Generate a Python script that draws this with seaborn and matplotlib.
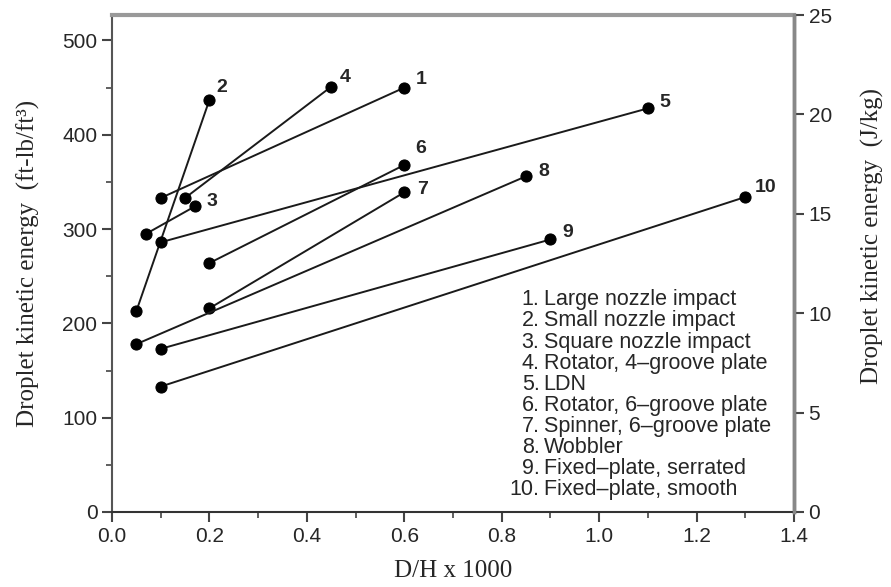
import matplotlib
matplotlib.use('Agg')
import matplotlib.pyplot as plt
from matplotlib.ticker import MultipleLocator, FormatStrFormatter
import seaborn as sns
import pandas as pd

# one line segment per nozzle type (low D/H end -> high D/H end)
series_id = [1, 2, 3, 4, 5, 6, 7, 8, 9, 10]
x_low = [0.10, 0.05, 0.07, 0.15, 0.10, 0.20, 0.20, 0.05, 0.10, 0.10]
y_low = [333, 213, 295, 333, 286, 264, 216, 178, 173, 133]
x_high = [0.60, 0.20, 0.17, 0.45, 1.10, 0.60, 0.60, 0.85, 0.90, 1.30]
y_high = [450, 437, 324, 451, 428, 368, 339, 356, 289, 334]

names = ['Large nozzle impact', 'Small nozzle impact', 'Square nozzle impact',
         'Rotator, 4\u2013groove plate', 'LDN', 'Rotator, 6\u2013groove plate',
         'Spinner, 6\u2013groove plate', 'Wobbler', 'Fixed\u2013plate, serrated',
         'Fixed\u2013plate, smooth']

# label offsets (points) for the number next to the high end
label_off = [(8, 6), (5, 9), (8.5, 3.5), (6.5, 6.5), (8, 4), (8, 12), (9, 2), (9, 3.5), (8.5, 5), (7, 6.5)]

df = pd.DataFrame({
    'series': series_id * 2,
    'x': x_low + x_high,
    'y': y_low + y_high,
})

sns.set_style('ticks')
plt.rcParams['font.family'] = ['Liberation Sans', 'DejaVu Sans']

fig, ax = plt.subplots(figsize=(8.91, 5.87), dpi=100)
fig.subplots_adjust(left=0.1257, right=0.8911, bottom=0.1278, top=0.9744)

sns.lineplot(data=df, x='x', y='y', units='series', estimator=None, sort=True,
             color='#1a1a1a', lw=1.4, marker='o', markersize=8,
             markerfacecolor='black', markeredgecolor='black', ax=ax)

for i, s in enumerate(series_id):
    ax.annotate(str(s), (x_high[i], y_high[i]), xytext=label_off[i],
                textcoords='offset points', fontsize=14, fontweight='bold',
                ha='left', va='center')

ax.set_xlim(0, 1.4)
ax.set_ylim(0, 527)
ax.xaxis.set_major_locator(MultipleLocator(0.2))
ax.xaxis.set_minor_locator(MultipleLocator(0.1))
ax.yaxis.set_major_locator(MultipleLocator(100))
ax.yaxis.set_minor_locator(MultipleLocator(50))
ax.xaxis.set_major_formatter(FormatStrFormatter('%.1f'))
ax.tick_params(axis='both', which='major', labelsize=15, length=7, width=1.5, color='#444')
ax.tick_params(axis='both', which='minor', length=4, width=1.2, color='#444')

ax.set_xlabel('D/H x 1000', family='Liberation Serif', fontsize=18)
ax.set_ylabel('Droplet kinetic energy  (ft-lb/ft\u00b3)', family='Liberation Serif',
              fontsize=18)
ax.xaxis.set_label_coords(0.5, -0.097)
ax.yaxis.set_label_coords(-0.1056, 0.5)

ax.spines['top'].set_color('#999999')
ax.spines['top'].set_linewidth(3)
ax.spines['left'].set_color('#555555')
ax.spines['left'].set_linewidth(1.5)
ax.spines['bottom'].set_color('#333333')
ax.spines['bottom'].set_linewidth(1.5)
ax.spines['right'].set_color('#888888')
ax.spines['right'].set_linewidth(2.5)

ax2 = ax.twinx()
ax2.set_ylim(0, 25)
ax2.yaxis.set_major_locator(MultipleLocator(5))
ax2.tick_params(axis='y', labelsize=15, length=7, width=1.5, color='#444')
ax2.set_ylabel('Droplet kinetic energy  (J/kg)', family='Liberation Serif',
               fontsize=18)
ax2.yaxis.set_label_coords(1.098, 0.555)
for sp in ['top', 'left', 'bottom']:
    ax2.spines[sp].set_visible(False)
ax2.spines['right'].set_color('#888888')
ax2.spines['right'].set_linewidth(2.5)

# numbered descriptions block
for i, (s, name) in enumerate(zip(series_id, names)):
    yy = 0.427 - i * 0.0425
    ax.text(0.627, yy, f'{s}.', transform=ax.transAxes, fontsize=15.5,
            ha='right', va='center')
    ax.text(0.633, yy, name, transform=ax.transAxes, fontsize=15.5,
            ha='left', va='center')

fig.savefig('out.png', dpi=100)
